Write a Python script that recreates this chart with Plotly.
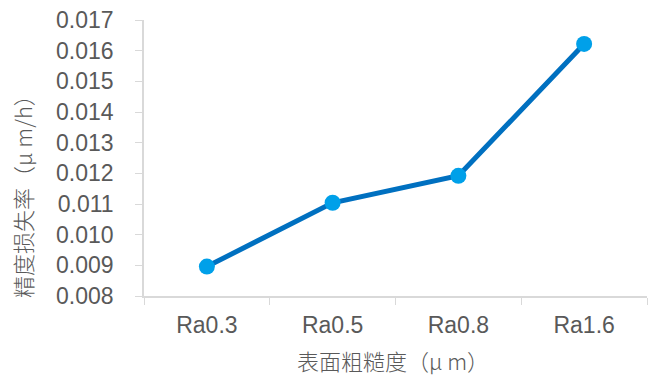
import plotly.graph_objects as go

# Surface roughness grades and measured precision-loss rate
categories = ["Ra0.3", "Ra0.5", "Ra0.8", "Ra1.6"]
loss_rate = [0.00896, 0.01104, 0.01192, 0.01622]

y_ticks = [0.008, 0.009, 0.010, 0.011, 0.012, 0.013, 0.014, 0.015, 0.016, 0.017]

LINE_BLUE = "#0070C0"
MARKER_BLUE = "#00A0E9"
AXIS_GREY = "#D9D9D9"
TEXT_GREY = "#595959"
CJK_FONT = "Noto Sans CJK SC"

fig = go.Figure()
fig.add_trace(go.Scatter(
    x=categories,
    y=loss_rate,
    mode="lines+markers",
    line=dict(color=LINE_BLUE, width=5),
    marker=dict(color=MARKER_BLUE, size=16, line=dict(width=0)),
    showlegend=False,
))

fig.update_layout(
    width=655,
    height=377,
    margin=dict(l=144, r=8, t=20, b=81),
    paper_bgcolor="white",
    plot_bgcolor="white",
    font=dict(family="Liberation Sans, Arial, sans-serif", color=TEXT_GREY, size=23),
)

fig.update_xaxes(
    type="category",
    range=[-0.5, 3.5],
    showline=True,
    linecolor=AXIS_GREY,
    linewidth=1.5,
    ticks="outside",
    tickson="boundaries",
    ticklen=7,
    tickcolor=AXIS_GREY,
    showgrid=False,
    ticklabelstandoff=8,
    tickfont=dict(size=23, color=TEXT_GREY),
)

fig.update_yaxes(
    range=[0.008, 0.017],
    tickvals=y_ticks,
    ticktext=[f"{v:.3f}" for v in y_ticks],
    showline=True,
    linecolor=AXIS_GREY,
    linewidth=1.5,
    ticks="outside",
    ticklen=7,
    tickcolor=AXIS_GREY,
    showgrid=False,
    zeroline=False,
    ticklabelstandoff=17,
    tickfont=dict(size=23, color=TEXT_GREY),
)

# Axis titles
fig.add_annotation(
    text="精度损失率（μ m/h）",
    xref="paper", yref="paper",
    x=-0.243, y=0.38,
    xanchor="center", yanchor="middle",
    textangle=-90,
    showarrow=False,
    font=dict(family=CJK_FONT, size=22, color=TEXT_GREY, weight=300),
)
fig.add_annotation(
    text="表面粗糙度（μ m）",
    xref="paper", yref="paper",
    x=0.496, y=-0.232,
    xanchor="center", yanchor="middle",
    showarrow=False,
    font=dict(family=CJK_FONT, size=22, color=TEXT_GREY, weight=300),
)

fig.write_html("out.html")
